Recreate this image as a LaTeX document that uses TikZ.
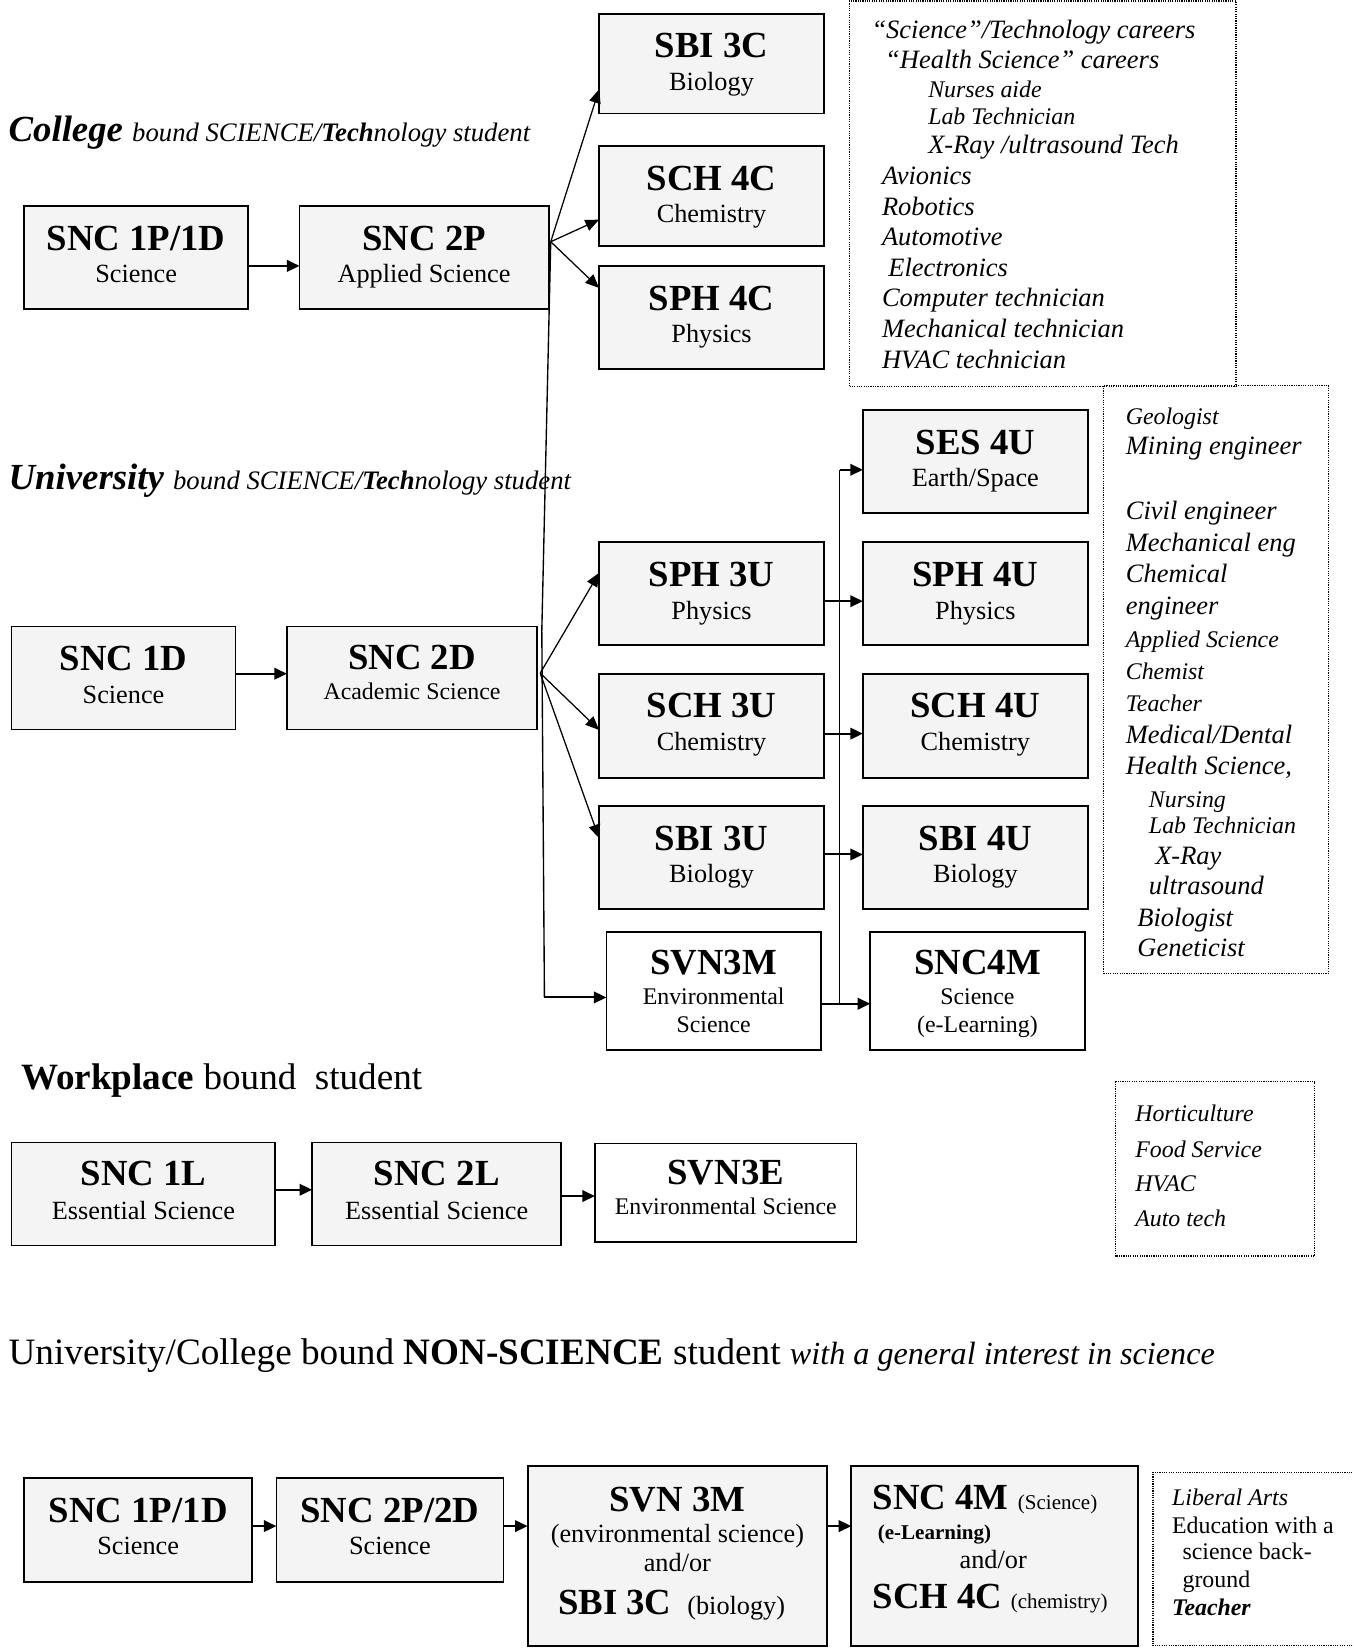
\documentclass[tikz,border=0pt]{standalone}
\usepackage{fontspec}
\setmainfont{Liberation Serif}
\usetikzlibrary{arrows.meta}
\definecolor{boxfill}{RGB}{244,244,244}
\newcommand\fs[1]{\fontsize{#1}{#1}\selectfont}
% offsets (from the box top) of the course code and the subject line
\def\ttloff{42}
\def\suboff{73}
% \course{name}{style}{x1}{y1}{x2}{y2}{code}{subject}
\newcommand\course[8]{%
  \node[#2, minimum width=#5-#3, minimum height=#6-#4] (#1) at ({(#3+#5)/2},{(#4+#6)/2}) {};
  \node[ttl] (#1-t) at ([yshift=-\ttloff pt]#1.north) {#7};
  \node[sub] (#1-s) at ([yshift=-\suboff pt]#1.north) {#8};}
% \coursethree{name}{x1}{y1}{x2}{y2}{code}{line 2}{line 3}
\newcommand\coursethree[8]{%
  \node[plainbox, minimum width=#4-#2, minimum height=#5-#3] (#1) at ({(#2+#4)/2},{(#3+#5)/2}) {};
  \node[ttl] (#1-t) at ([yshift=-40.5pt]#1.north) {#6};
  \node[smallsub] (#1-a) at ([yshift=-69pt]#1.north) {#7};
  \node[smallsub] (#1-b) at ([yshift=-95pt]#1.north) {#8};}
\begin{document}
\begin{tikzpicture}[x=1pt,y=-1pt,
  crsbox/.style={draw, line width=1.7pt, fill=boxfill, inner sep=0pt, outer sep=0pt},
  plainbox/.style={crsbox, fill=white},
  ttl/.style={font=\fs{35}\bfseries, inner sep=0pt, anchor=base},
  sub/.style={font=\fs{25}, inner sep=0pt, anchor=base},
  smallsub/.style={font=\fs{22.7}, inner sep=0pt, anchor=base},
  heading/.style={inner sep=0pt, anchor=base west},
  job/.style={font=\fs{25.2}\itshape, inner sep=0pt, anchor=base west},
  jobsm/.style={font=\fs{22.7}\itshape, inner sep=0pt, anchor=base west},
  plain/.style={font=\fs{22.7}, inner sep=0pt, anchor=base west},
  link/.style={-{Triangle[length=12pt,width=11pt]}, line width=1.9pt},
  fan/.style={-{Triangle[length=13pt,width=11pt]}, line width=1.2pt},
  spine/.style={line width=1.3pt},
  notes/.style={line width=1.1pt, dash pattern=on 1.1pt off 1.1pt}]
\useasboundingbox (0,0) rectangle (1288,1568);

% ---------------- College bound ----------------
\node[heading] (hdcol) at (8,135) {\fs{35}\bfseries\itshape College
  \fs{25.4}\mdseries bound SCIENCE/\textbf{Tech}nology student};
\course{c1p}{crsbox}{23}{196}{236}{294}{SNC 1P/1D}{Science}
\course{c2p}{crsbox}{285}{196}{522}{294}{SNC 2P}{Applied Science}
\course{sbi3c}{crsbox}{570}{13}{784}{108}{SBI 3C}{Biology}
\course{sch4c}{crsbox}{570}{139}{784}{234}{SCH 4C}{Chemistry}
\course{sph4c}{crsbox}{570}{253}{784}{351}{SPH 4C}{Physics}

\draw[link] (c1p.east |- 0,253) -- (c2p.west |- 0,253);
\coordinate (cfan) at (524,230);
\draw[fan] (cfan) -- (sbi3c.west |- 0,85);
\draw[fan] (cfan) -- (sch4c.west |- 0,209);
\draw[fan] (cfan) -- (sph4c.west |- 0,274);

% career list for the college stream
\draw[notes] (808,1) rectangle (1176,368);
\foreach \n/\x/\y/\s/\t in {
  1/829/36.5/job/{``Science''/Technology careers},
  2/842/65.5/job/{``Health Science'' careers},
  3/883/93/jobsm/{Nurses aide},
  4/883/118.5/jobsm/{Lab Technician},
  5/883/146.5/job/{X-Ray /ultrasound Tech},
  6/839/176/job/{Avionics},
  7/839/205/job/{Robotics},
  8/839/234/job/{Automotive},
  9/845/263/job/{Electronics},
  10/839/292/job/{Computer technician},
  11/839/321/job/{Mechanical technician},
  12/839/350.5/job/{HVAC technician}}
  \node[\s] (cj\n) at (\x,\y) {\t};

% ---------------- University bound ----------------
\node[heading] (hduni) at (8,466) {\fs{35}\bfseries\itshape University
  \fs{25.4}\mdseries bound SCIENCE/\textbf{Tech}nology student};
\course{u1d}{crsbox}{11}{596}{224}{694}{SNC 1D}{Science}
{\def\ttloff{41}\def\suboff{70}
\course{u2d}{crsbox}{273}{596}{511}{694}{SNC 2D}{\fs{22.7}Academic Science}}
\course{ses4u}{crsbox}{821}{390}{1035}{488}{SES 4U}{Earth/Space}
\course{sph3u}{crsbox}{570}{516}{784}{614}{SPH 3U}{Physics}
\course{sph4u}{crsbox}{821}{516}{1035}{614}{SPH 4U}{Physics}
\course{sch3u}{crsbox}{570}{641}{784}{740}{SCH 3U}{Chemistry}
\course{sch4u}{crsbox}{821}{641}{1035}{740}{SCH 4U}{Chemistry}
\course{sbi3u}{crsbox}{570}{767}{784}{865}{SBI 3U}{Biology}
\course{sbi4u}{crsbox}{821}{767}{1035}{865}{SBI 4U}{Biology}
\coursethree{svn3m}{577}{887}{781}{999}{SVN3M}{Environmental}{Science}
\coursethree{snc4m}{828}{887}{1032}{999}{SNC4M}{Science}{(e-Learning)}

% long connector from SNC 2P down to SVN3M
\coordinate (cmid) at (515.5,600);
\coordinate (cbend) at (518,949);
\draw[spine] (cfan) -- (cmid) -- (cbend);
\draw[link] (cbend) -- (svn3m.west |- cbend);

\draw[link] (u1d.east |- 0,641) -- (u2d.west |- 0,641);
\coordinate (ufan) at (514,640.5);
\draw[fan] (ufan) -- (sph3u.west |- 0,545);
\draw[fan] (ufan) -- (sch3u.west |- 0,694.5);
\draw[fan] (ufan) -- (sbi3u.west |- 0,797.5);

\coordinate (spinetop) at (799,447);
\coordinate (spinebot) at (799,955);
\draw[spine] (spinebot) -- (spinetop);
\draw[link] (spinetop) -- (ses4u.west |- spinetop);
\draw[link] (sph3u.east |- 0,572) -- (sph4u.west |- 0,572);
\draw[link] (sch3u.east |- 0,698) -- (sch4u.west |- 0,698);
\draw[link] (sbi3u.east |- 0,813) -- (sbi4u.west |- 0,813);
\draw[link] (svn3m.east |- spinebot) -- (snc4m.west |- spinebot);

% career list for the university stream
\draw[notes] (1050,367) rectangle (1264,926);
\foreach \n/\x/\y/\s/\t in {
  1/1071/403.5/jobsm/{Geologist},
  2/1071/432.5/job/{Mining engineer},
  3/1071/494/job/{Civil engineer},
  4/1071/524.5/job/{Mechanical eng},
  5/1071/554.5/job/{Chemical},
  6/1071/584.5/job/{engineer},
  7/1071/616.5/jobsm/{Applied Science},
  8/1071/646.5/jobsm/{Chemist},
  9/1071/677/jobsm/{Teacher},
  10/1071/707/job/{Medical/Dental},
  11/1071/737/job/{Health Science,},
  12/1093/768.5/jobsm/{Nursing},
  13/1093/793.5/jobsm/{Lab Technician},
  14/1099/822.5/job/{X-Ray},
  15/1093/851/job/{ultrasound},
  16/1082/881.5/job/{Biologist},
  17/1082/910/job/{Geneticist}}
  \node[\s] (uj\n) at (\x,\y) {\t};

% ---------------- Workplace bound ----------------
\node[heading] (hdwork) at (20,1037) {\fs{35.3}\textbf{Workplace} bound\ \ student};
{\def\ttloff{41}
\course{w1l}{crsbox}{11}{1087}{262}{1185}{SNC 1L}{Essential Science}
\course{w2l}{crsbox}{297}{1087}{534}{1185}{SNC 2L}{Essential Science}}
{\def\ttloff{39}\def\suboff{68}
\course{w3e}{plainbox}{566}{1088}{815}{1182}{SVN3E}{\fs{22.7}Environmental Science}}
\draw[link] (w1l.east |- 0,1132) -- (w2l.west |- 0,1132);
\draw[link] (w2l.east |- 0,1138) -- (w3e.west |- 0,1138);

\draw[notes] (1061,1029) rectangle (1251,1195);
\foreach \n/\y/\t in {1/1067.5/Horticulture, 2/1101/Food Service, 3/1134/HVAC, 4/1167/Auto tech}
  \node[jobsm] (wj\n) at (1080,\y) {\t};

% ---------------- Non-science ----------------
\node[heading] (hdns) at (8,1298) {\fs{35.4}University/College bound
  \textbf{NON-SCIENCE} student \fs{30.6}\itshape with a general interest in science};
{\def\ttloff{43}
\course{n1}{crsbox}{23}{1406}{240}{1505}{SNC 1P/1D}{Science}
\course{n2}{crsbox}{263}{1406}{479}{1505}{SNC 2P/2D}{Science}}

\node[crsbox, minimum width=285, minimum height=171] (n3) at (644.5,1480.5) {};
\node[ttl] (n3-t) at (644.5,1438) {SVN 3M};
\node[sub] (n3-a) at (644.5,1468) {(environmental science)};
\node[sub] (n3-b) at (644.5,1495) {and/or};
\node[sub] (n3-c) at (639,1536) {{\fs{35}\bfseries SBI 3C}\hspace{15pt}(biology)};

\node[crsbox, minimum width=273, minimum height=171] (n4) at (946.5,1480.5) {};
\node[heading] (n4-t) at (830,1436.5) {{\fs{35}\bfseries SNC 4M}\hspace{9pt}{\fs{20}(Science)}};
\node[heading] (n4-a) at (835,1465) {\fs{20}\bfseries (e-Learning)};
\node[sub] (n4-b) at (945,1492) {and/or};
\node[heading] (n4-c) at (830,1530) {{\fs{35}\bfseries SCH 4C}\hspace{8pt}{\fs{20}(chemistry)}};

\draw[link] (n1.east |- 0,1452) -- (n2.west |- 0,1452);
\draw[link] (n2.east |- 0,1452) -- (n3.west |- 0,1452);
\draw[link] (n3.east |- 0,1452) -- (n4.west |- 0,1452);

\draw[notes] (1300,1401) -- (1097,1401) -- (1097,1566) -- (1300,1566);
\node[jobsm] (nj1) at (1115,1432.5) {Liberal Arts};
\node[plain] (nj2) at (1115,1459) {Education with a};
\node[plain] (nj3) at (1125,1484) {science back-};
\node[plain] (nj4) at (1125,1510) {ground};
\node[jobsm] (nj5) at (1115,1537.5) {\bfseries Teacher};
\end{tikzpicture}
\end{document}
